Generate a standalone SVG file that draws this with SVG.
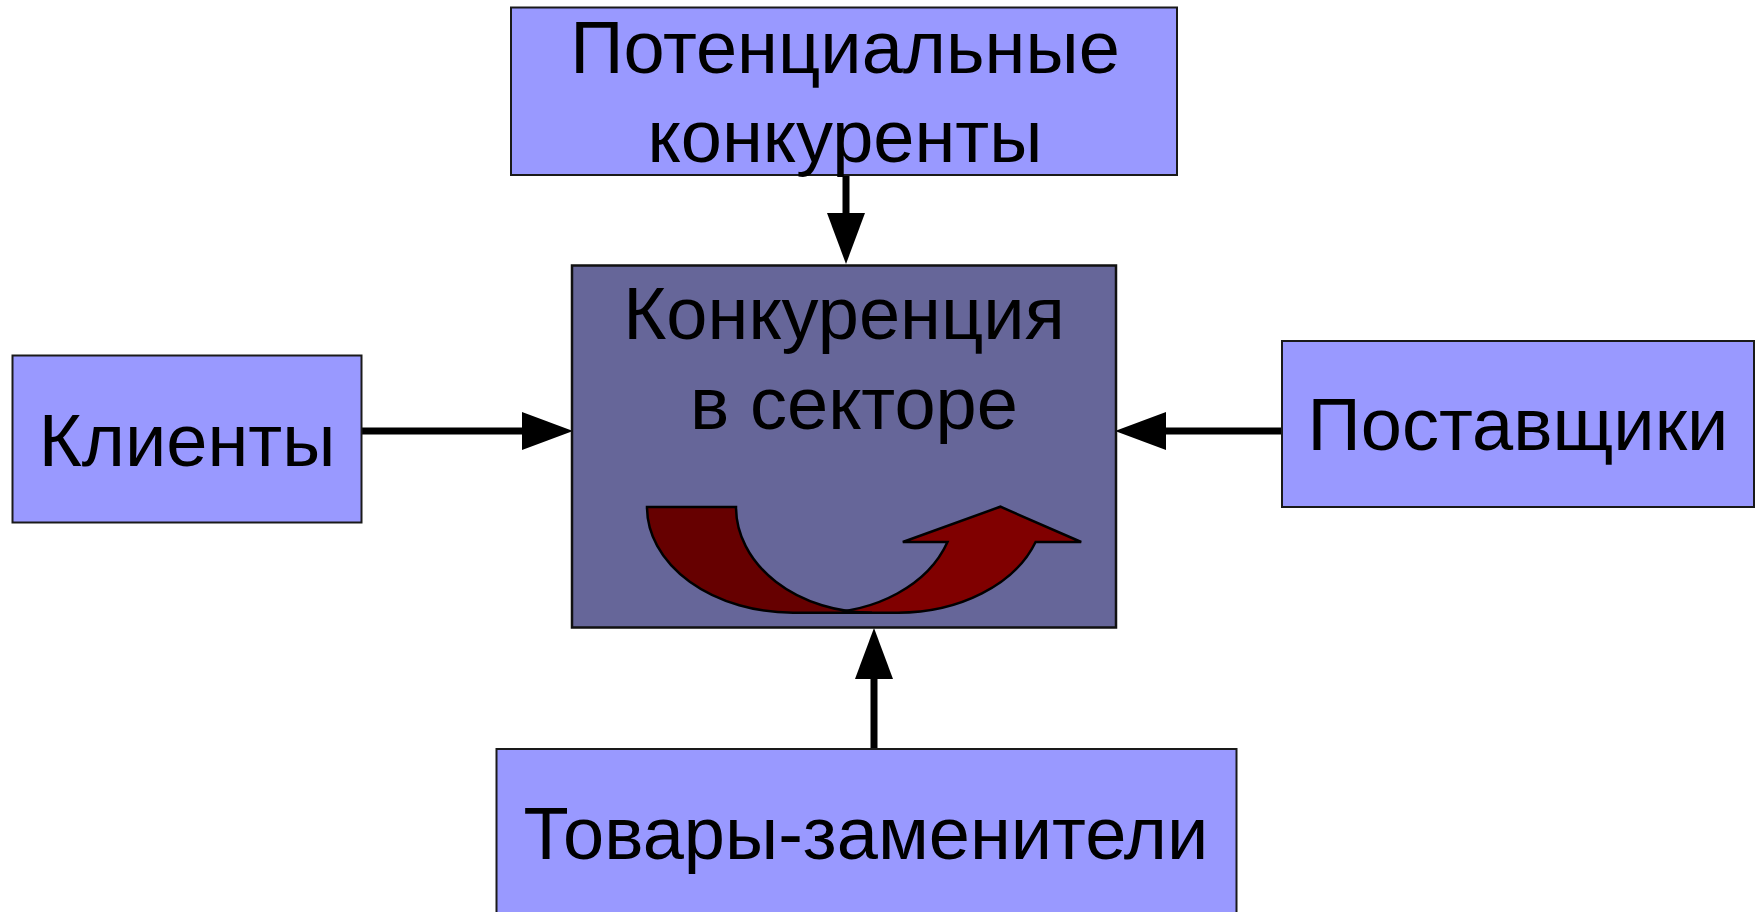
<svg xmlns="http://www.w3.org/2000/svg" width="1756" height="912" viewBox="0 0 1756 912">
<style>
.box{fill:#9999ff;stroke:#1a1a1a;stroke-width:2}
.core{fill:#666699;stroke:#111;stroke-width:2.5}
.t{font-family:"Liberation Sans",Arial,sans-serif;font-size:74px;fill:#000;text-anchor:middle}
.con{stroke:#000;stroke-width:7;fill:none;marker-end:url(#ah)}
.ribbon{stroke:#000;stroke-width:2.5;stroke-linejoin:miter}
</style>
<defs>
<marker id="ah" markerUnits="userSpaceOnUse" markerWidth="54" markerHeight="40" refX="0" refY="19" orient="auto" overflow="visible">
<path d="M0,0 L51,19 L0,38 z" fill="#000"/>
</marker>
</defs>
<rect width="1756" height="912" fill="#fff"/>
<g id="connectors">
<line class="con" x1="846" y1="175" x2="846" y2="213"/>
<line class="con" x1="362" y1="431" x2="522" y2="431"/>
<line class="con" x1="1283" y1="431" x2="1166" y2="431"/>
<line class="con" x1="874" y1="749" x2="874" y2="679"/>
</g>
<g id="node-potential">
<rect class="box" x="511" y="7.5" width="666" height="167.5"/>
<text class="t" x="845" y="73">Потенциальные</text>
<text class="t" x="845" y="162">конкуренты</text>
</g>
<g id="node-clients">
<rect class="box" x="12.5" y="355.5" width="349" height="167"/>
<text class="t" x="187" y="466">Клиенты</text>
</g>
<g id="node-suppliers">
<rect class="box" x="1282" y="341" width="472" height="166"/>
<text class="t" x="1518" y="450">Поставщики</text>
</g>
<g id="node-substitutes">
<rect class="box" x="496.5" y="749" width="740" height="170"/>
<text class="t" x="866" y="859">Товары-заменители</text>
</g>
<g id="node-center">
<rect class="core" x="572" y="265.5" width="544" height="362"/>
<text class="t" x="844" y="339">Конкуренция</text>
<text class="t" x="854" y="429">в секторе</text>
<path class="ribbon" fill="#800000" d="M818,612.7 A136,105.7 0 0 0 947.5,542 L902.8,542 L1000.4,506.7 L1081.2,542 L1035.6,542 A146,105.7 0 0 1 897,612.7 Z"/>
<path class="ribbon" fill="#660000" d="M647,507 L736,507 A136,105.7 0 0 0 872,612.7 L793,612.7 A146,105.7 0 0 1 647,507 Z"/>
</g>
</svg>
